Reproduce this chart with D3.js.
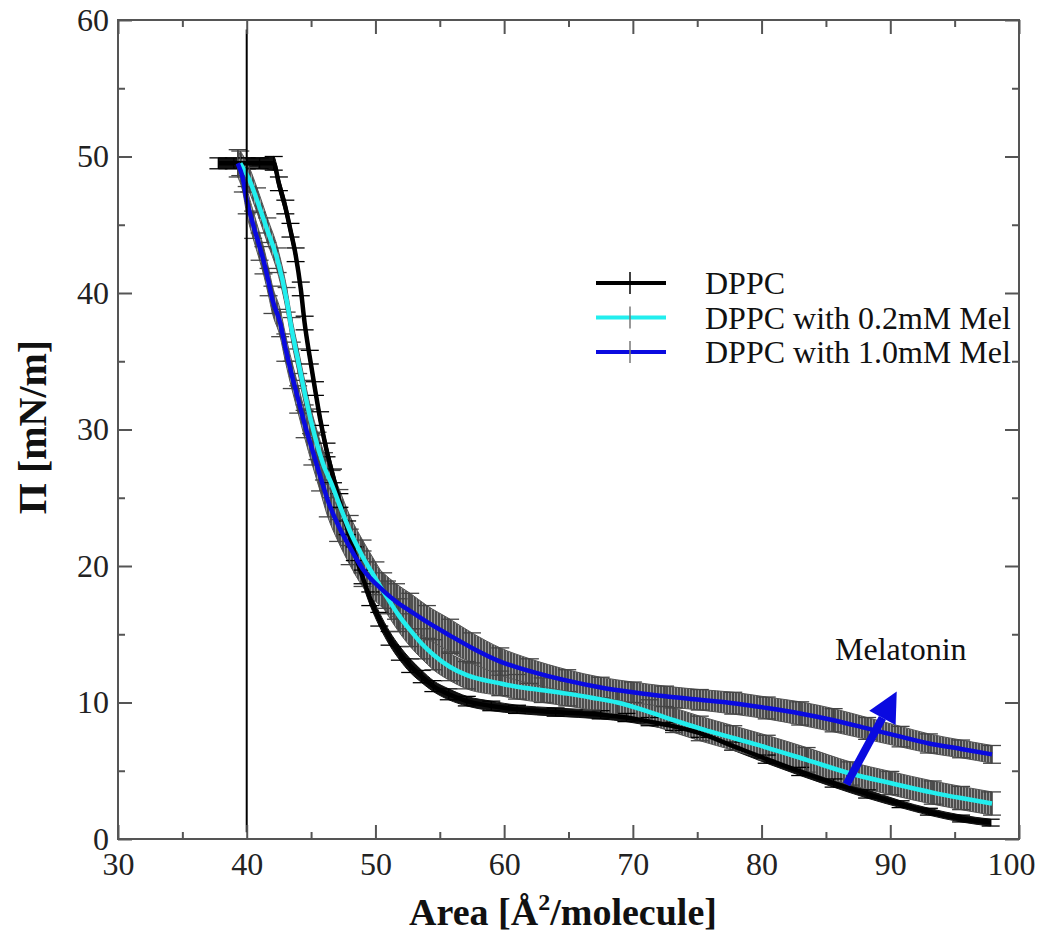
<!DOCTYPE html>
<html>
<head>
<meta charset="utf-8">
<script src="https://cdn.jsdelivr.net/npm/d3@7"></script>
<style>
  body { margin: 0; background: #fff; }
  text { font-family: "Liberation Serif", "Times New Roman", serif; }
</style>
</head>
<body>
<svg id="chart" width="1039" height="934"></svg>
<script>
// surface pressure isotherms
var seriesNames = ["DPPC", "DPPC with 0.2mM Mel", "DPPC with 1.0mM Mel"];

var areaDPPC = [37.8, 39.0, 40.0, 41.0, 42.1, 42.5, 43.0, 43.4, 43.8, 44.2, 44.5, 44.9, 45.3, 45.7, 46.2, 46.7, 47.2, 47.8, 48.4, 49.0, 49.6, 50.3, 51.1, 51.9, 52.7, 53.6, 54.5, 55.7, 57.1, 59.0, 61.0, 64.0, 67.5, 69.5, 71.3, 73.2, 75.2, 77.8, 80.4, 83.0, 85.6, 88.2, 90.8, 93.0, 95.5, 97.8];
var piDPPC   = [49.5, 49.5, 49.5, 49.5, 49.5, 48.0, 46.3, 44.6, 42.8, 40.3, 37.8, 35.3, 33.0, 30.8, 28.5, 26.6, 24.8, 22.8, 20.9, 19.2, 17.6, 16.1, 14.7, 13.6, 12.7, 11.9, 11.2, 10.6, 10.1, 9.75, 9.5, 9.3, 9.1, 8.9, 8.6, 8.25, 7.75, 6.8, 5.85, 4.95, 4.1, 3.3, 2.55, 2.0, 1.5, 1.2];
var errDPPC  = [0.4, 0.4, 0.4, 0.4, 0.5, 0.5, 0.5, 0.5, 0.5, 0.5, 0.5, 0.5, 0.5, 0.5, 0.5, 0.5, 0.5, 0.5, 0.5, 0.5, 0.5, 0.5, 0.5, 0.5, 0.5, 0.45, 0.4, 0.4, 0.35, 0.35, 0.3, 0.3, 0.3, 0.3, 0.3, 0.3, 0.3, 0.3, 0.3, 0.3, 0.3, 0.3, 0.25, 0.25, 0.25, 0.25];

var areaMel02 = [39.5, 40.2, 40.8, 41.6, 42.4, 43.1, 43.5, 44.0, 44.5, 45.0, 45.5, 46.0, 46.6, 47.2, 48.0, 49.0, 50.0, 50.9, 51.8, 52.7, 53.6, 54.5, 55.8, 57.1, 59.7, 61.0, 63.0, 64.9, 66.8, 68.8, 71.3, 73.2, 75.2, 77.8, 80.4, 83.5, 86.9, 90.0, 93.3, 95.5, 97.9];
var piMel02   = [49.5, 48.3, 46.8, 44.6, 42.4, 39.5, 37.3, 35.0, 32.7, 30.6, 28.8, 27.3, 26.0, 24.5, 22.6, 20.7, 19.1, 17.7, 16.4, 15.3, 14.3, 13.5, 12.6, 12.0, 11.4, 11.15, 10.9, 10.65, 10.35, 10.0, 9.3, 8.7, 8.1, 7.4, 6.7, 5.8, 4.8, 4.1, 3.4, 3.0, 2.6];
var errMel02  = [0.9, 0.9, 0.9, 0.9, 0.9, 0.9, 0.9, 0.9, 0.9, 0.9, 1.0, 1.0, 1.0, 1.1, 1.1, 1.2, 1.2, 1.2, 1.2, 1.2, 1.1, 1.1, 1.0, 1.0, 0.9, 0.9, 0.9, 0.9, 0.9, 0.9, 0.9, 0.9, 0.9, 0.9, 0.9, 0.9, 0.85, 0.85, 0.85, 0.85, 0.85];

var areaMel10 = [39.3, 39.7, 40.0, 40.5, 41.0, 41.3, 41.7, 42.0, 42.6, 43.0, 43.5, 44.0, 44.5, 45.1, 45.7, 46.3, 47.1, 48.0, 49.0, 50.6, 51.6, 52.7, 54.0, 55.8, 57.5, 59.7, 62.0, 64.9, 67.5, 70.0, 72.5, 75.2, 77.8, 80.4, 83.0, 85.6, 88.2, 90.8, 93.0, 95.5, 97.9];
var piMel10   = [49.5, 48.4, 46.8, 45.0, 43.4, 42.4, 40.8, 39.5, 37.8, 36.0, 34.0, 32.2, 30.4, 28.5, 26.6, 24.8, 23.0, 21.4, 19.8, 18.2, 17.4, 16.7, 15.9, 14.9, 14.0, 13.0, 12.3, 11.6, 11.1, 10.75, 10.45, 10.2, 9.95, 9.6, 9.2, 8.7, 8.1, 7.5, 7.0, 6.6, 6.2];
var errMel10  = [1.0, 1.0, 1.0, 1.0, 1.0, 1.0, 1.0, 1.0, 1.0, 1.0, 1.0, 1.0, 1.0, 1.1, 1.1, 1.2, 1.2, 1.3, 1.3, 1.3, 1.3, 1.3, 1.2, 1.2, 1.1, 1.0, 0.9, 0.8, 0.75, 0.75, 0.75, 0.75, 0.8, 0.8, 0.85, 0.85, 0.8, 0.75, 0.7, 0.65, 0.65];

var xTicks = [30, 40, 50, 60, 70, 80, 90, 100];
var yTicks = [0, 10, 20, 30, 40, 50, 60];
var xMinor = [35, 45, 55, 65, 75, 85, 95];
var yMinor = [5, 15, 25, 35, 45, 55];

// vertical marker at 40 and the "Melatonin" arrow
var markerArea = 40, markerPi = [0.5, 59.3];
var arrowFrom = [86.6, 4.0], arrowTo = [90.5, 10.8];

var lineColors = ["#000000", "#22eeee", "#0a0ae0"];
var errColors = ["#000000", "#444444", "#444444"];

var svg = d3.select("#chart");
svg.append("rect").attr("width", 1039).attr("height", 934).attr("fill", "#fff");

// note: "top" is taken by window.top, so plot edges get their own names
var plotL = 118, plotR = 1019, plotT = 20, plotB = 839;
var x = d3.scaleLinear().domain([30, 100]).range([plotL, plotR]);
var y = d3.scaleLinear().domain([0, 60]).range([plotB, plotT]);

// striped pattern for the dense error bars
var defs = svg.append("defs");
var pat = defs.append("pattern").attr("id", "stripes")
  .attr("patternUnits", "userSpaceOnUse").attr("width", 3).attr("height", 10);
pat.append("rect").attr("width", 3).attr("height", 10).attr("fill", "#9a9a9a");
pat.append("line").attr("x1", 1).attr("x2", 1).attr("y1", 0).attr("y2", 10)
  .attr("stroke", "#2e2e2e").attr("stroke-width", 1.4);

var series = [
  { area: areaDPPC, pi: piDPPC, err: errDPPC },
  { area: areaMel02, pi: piMel02, err: errMel02 },
  { area: areaMel10, pi: piMel10, err: errMel10 }
].map(function(s, i) {
  return {
    name: seriesNames[i], color: lineColors[i], errColor: errColors[i],
    points: s.area.map(function(a, j) { return { a: a, p: s.pi[j], e: s.err[j] }; })
  };
});

var band = d3.area()
  .x(function(d) { return x(d.a); })
  .y0(function(d) { return y(d.p - d.e); })
  .y1(function(d) { return y(d.p + d.e); })
  .curve(d3.curveMonotoneX);

var line = d3.line()
  .x(function(d) { return x(d.a); })
  .y(function(d) { return y(d.p); })
  .curve(d3.curveMonotoneX);

var plot = svg.append("g");

// bands first
series.forEach(function(s, i) {
  plot.append("path").datum(s.points)
    .attr("d", band)
    .attr("fill", i == 0 ? "#111" : "url(#stripes)")
    .attr("stroke", i == 0 ? "#111" : "#555")
    .attr("stroke-width", 1);
});

// error bars with caps
var cap = 9;
series.forEach(function(s) {
  var g = plot.append("g").attr("stroke", s.errColor).attr("stroke-width", 1.3);
  s.points.forEach(function(d) {
    var y0 = y(d.p - d.e), y1 = y(d.p + d.e), xx = x(d.a);
    g.append("line").attr("x1", xx).attr("x2", xx).attr("y1", y0).attr("y2", y1);
    g.append("line").attr("x1", xx - cap).attr("x2", xx + cap).attr("y1", y0).attr("y2", y0);
    g.append("line").attr("x1", xx - cap).attr("x2", xx + cap).attr("y1", y1).attr("y2", y1);
  });
});

// the curves
series.forEach(function(s) {
  plot.append("path").datum(s.points)
    .attr("d", line)
    .attr("fill", "none")
    .attr("stroke", s.color)
    .attr("stroke-width", 4.5)
    .attr("stroke-linejoin", "round");
});

// vertical marker
svg.append("line")
  .attr("x1", x(markerArea)).attr("x2", x(markerArea))
  .attr("y1", y(markerPi[0])).attr("y2", y(markerPi[1]))
  .attr("stroke", "#000").attr("stroke-width", 2);

// axes, ticks pointing inward on all four sides
var axisColor = "#555";
function styleAxis(g) {
  g.select(".domain").remove();
  g.selectAll(".tick line").attr("stroke", axisColor).attr("stroke-width", 2);
  g.selectAll("text").attr("fill", "#222").style("font-size", "32px")
    .style("font-family", "'Liberation Serif', 'Times New Roman', serif");
}
var xAxisG = svg.append("g").attr("transform", "translate(0," + plotB + ")")
  .call(d3.axisBottom(x).tickValues(xTicks).tickSize(-14).tickPadding(13).tickFormat(d3.format("d")))
  .call(styleAxis);
// last label is pulled in a little so it stays inside the page, as in the original
xAxisG.selectAll(".tick text").filter(function(d) { return d == 100; }).attr("dx", -8);
svg.append("g").attr("transform", "translate(0," + plotB + ")")
  .call(d3.axisBottom(x).tickValues(xMinor).tickSize(-7).tickFormat(""))
  .call(styleAxis);
svg.append("g").attr("transform", "translate(0," + plotT + ")")
  .call(d3.axisTop(x).tickValues(xTicks).tickSize(-14).tickFormat(""))
  .call(styleAxis);
svg.append("g").attr("transform", "translate(0," + plotT + ")")
  .call(d3.axisTop(x).tickValues(xMinor).tickSize(-7).tickFormat(""))
  .call(styleAxis);
svg.append("g").attr("transform", "translate(" + plotL + ",0)")
  .call(d3.axisLeft(y).tickValues(yTicks).tickSize(-14).tickPadding(9).tickFormat(d3.format("d")))
  .call(styleAxis);
svg.append("g").attr("transform", "translate(" + plotL + ",0)")
  .call(d3.axisLeft(y).tickValues(yMinor).tickSize(-7).tickFormat(""))
  .call(styleAxis);
svg.append("g").attr("transform", "translate(" + plotR + ",0)")
  .call(d3.axisRight(y).tickValues(yTicks).tickSize(-14).tickFormat(""))
  .call(styleAxis);
svg.append("g").attr("transform", "translate(" + plotR + ",0)")
  .call(d3.axisRight(y).tickValues(yMinor).tickSize(-7).tickFormat(""))
  .call(styleAxis);

svg.append("rect")
  .attr("x", plotL).attr("y", plotT)
  .attr("width", plotR - plotL).attr("height", plotB - plotT)
  .attr("fill", "none").attr("stroke", axisColor).attr("stroke-width", 2);

// axis titles
var xt = svg.append("text")
  .attr("x", 563).attr("y", 925)
  .attr("text-anchor", "middle")
  .style("font-size", "38px").style("font-weight", "bold").attr("fill", "#111");
xt.append("tspan").text("Area [Å");
xt.append("tspan").attr("dy", -15).style("font-size", "24px").text("2");
xt.append("tspan").attr("dy", 15).text("/molecule]");

svg.append("text")
  .attr("transform", "translate(46,427) rotate(-90)")
  .attr("text-anchor", "middle")
  .style("font-size", "40px").style("font-weight", "bold").attr("fill", "#111")
  .text("Π [mN/m]");

// legend
var legend = svg.append("g");
series.forEach(function(s, i) {
  var ly = 283 + i * 34.5;
  legend.append("line").attr("x1", 596).attr("x2", 666).attr("y1", ly).attr("y2", ly)
    .attr("stroke", s.color).attr("stroke-width", 4);
  legend.append("line").attr("x1", 630).attr("x2", 630).attr("y1", ly - 11).attr("y2", ly + 11)
    .attr("stroke", i == 0 ? "#000" : "#777").attr("stroke-width", 1.5);
  legend.append("text").attr("x", 705).attr("y", ly + 11)
    .style("font-size", "32px").attr("fill", "#111")
    .text(s.name);
});

// "Melatonin" arrow
var ax0 = x(arrowFrom[0]), ay0 = y(arrowFrom[1]);
var ax1 = x(arrowTo[0]), ay1 = y(arrowTo[1]);
var ang = Math.atan2(ay1 - ay0, ax1 - ax0);
var headLen = 30, headW = 15;
var bx = ax1 - headLen * Math.cos(ang), by = ay1 - headLen * Math.sin(ang);
svg.append("line")
  .attr("x1", ax0).attr("y1", ay0).attr("x2", bx).attr("y2", by)
  .attr("stroke", "#0a0ae0").attr("stroke-width", 8);
svg.append("polygon")
  .attr("points", [
    [ax1, ay1],
    [bx + headW * Math.sin(ang), by - headW * Math.cos(ang)],
    [bx - headW * Math.sin(ang), by + headW * Math.cos(ang)]
  ].map(function(p) { return p.join(","); }).join(" "))
  .attr("fill", "#0a0ae0");

svg.append("text").attr("x", 835).attr("y", 660)
  .style("font-size", "32px").attr("fill", "#111")
  .text("Melatonin");
</script>
</body>
</html>
